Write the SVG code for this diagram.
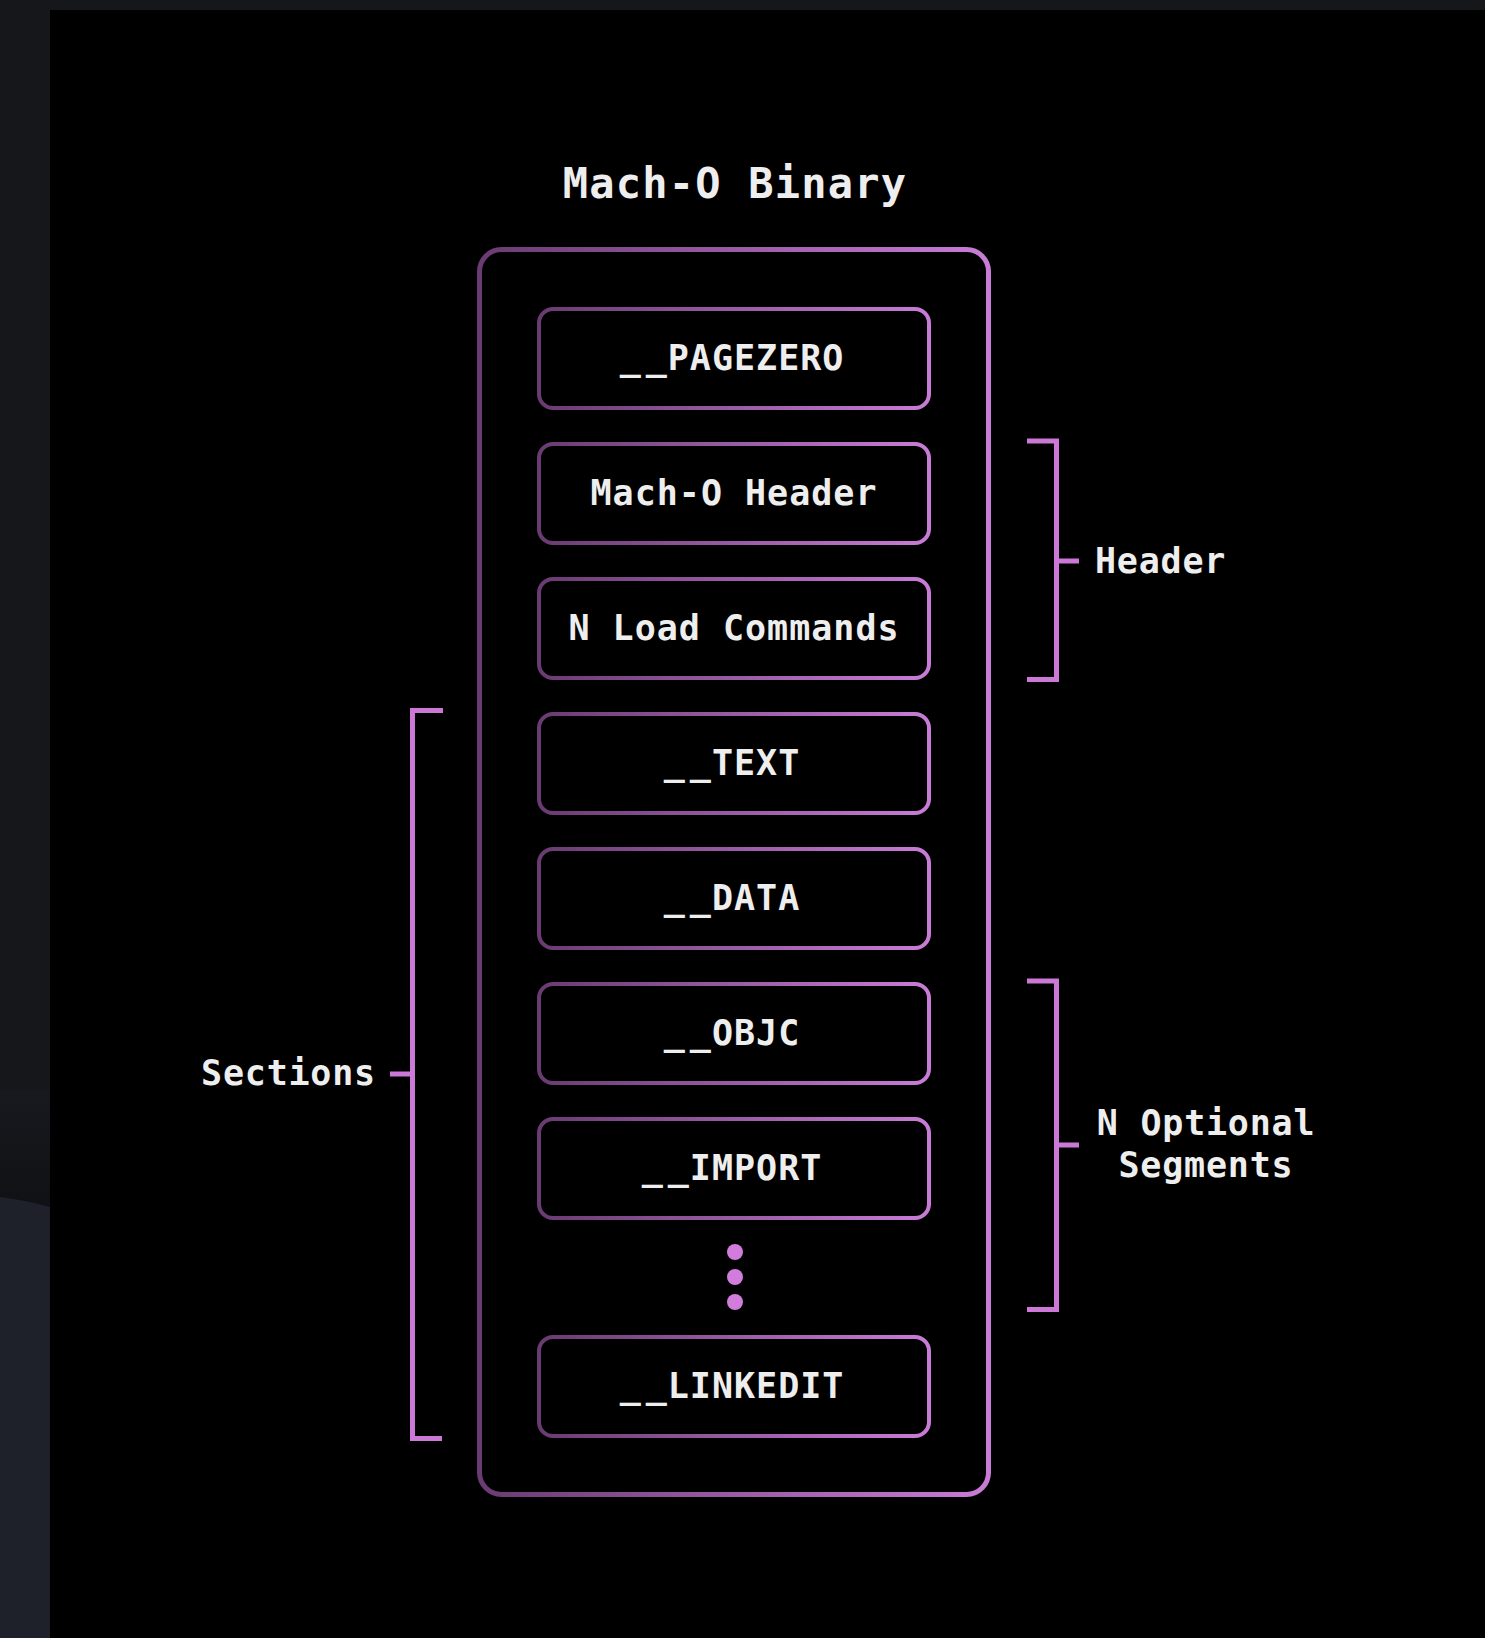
<svg xmlns="http://www.w3.org/2000/svg" width="1485" height="1638" viewBox="0 0 1485 1638">
  <defs>
    <linearGradient id="frameGrad" x1="0" y1="0" x2="1" y2="0">
      <stop offset="0" stop-color="#6a3b72"/>
      <stop offset="1" stop-color="#c97cd7"/>
    </linearGradient>
    <linearGradient id="stripShade" x1="0" y1="0" x2="0" y2="1">
      <stop offset="0" stop-color="#17191e"/>
      <stop offset="1" stop-color="#101115"/>
    </linearGradient>
    <style>
      .seg { fill: #000; stroke: url(#frameGrad); stroke-width: 4; }
      .outer { fill: #000; stroke: url(#frameGrad); stroke-width: 5; }
      .lbl { font-family: "DejaVu Sans Mono", "Liberation Mono", monospace; font-weight: bold; fill: #eeeeee; }
      .box-lbl { font-size: 35px; letter-spacing: 1px; text-anchor: middle; }
      .us { letter-spacing: 5px; }
      .side-lbl { font-size: 35px; letter-spacing: 0.8px; }
      .title { font-size: 42px; letter-spacing: 1.2px; text-anchor: middle; }
      .bracket { fill: none; stroke: #cc78d7; stroke-width: 5; stroke-linejoin: miter; stroke-linecap: butt; }
      .dot { fill: #d27ddc; }
    </style>
  </defs>

  <!-- page background -->
  <rect x="0" y="0" width="1485" height="1638" fill="#000"/>
  <rect x="0" y="0" width="1485" height="10" fill="#15171b"/>
  <rect x="0" y="0" width="50" height="1638" fill="#15171b"/>
  <rect x="0" y="1090" width="50" height="120" fill="url(#stripShade)"/>
  <path d="M0,1197 Q25,1200 50,1207 L50,1638 L0,1638 Z" fill="#1e2129"/>

  <!-- title -->
  <text class="lbl title" x="735" y="198">Mach-O Binary</text>

  <!-- binary container -->
  <g id="binary">
    <rect class="outer" x="479.5" y="249.5" width="509" height="1245" rx="22"/>
  </g>

  <!-- segments -->
  <g id="pagezero">
    <rect class="seg" x="539" y="309" width="390" height="99" rx="14"/>
    <text class="lbl box-lbl" x="732" y="370"><tspan class="us">_</tspan>_PAGEZERO</text>
  </g>
  <g id="macho-header">
    <rect class="seg" x="539" y="444" width="390" height="99" rx="14"/>
    <text class="lbl box-lbl" x="734" y="505">Mach-O Header</text>
  </g>
  <g id="load-commands">
    <rect class="seg" x="539" y="579" width="390" height="99" rx="14"/>
    <text class="lbl box-lbl" x="734" y="640">N Load Commands</text>
  </g>
  <g id="text-seg">
    <rect class="seg" x="539" y="714" width="390" height="99" rx="14"/>
    <text class="lbl box-lbl" x="732" y="775"><tspan class="us">_</tspan>_TEXT</text>
  </g>
  <g id="data-seg">
    <rect class="seg" x="539" y="849" width="390" height="99" rx="14"/>
    <text class="lbl box-lbl" x="732" y="910"><tspan class="us">_</tspan>_DATA</text>
  </g>
  <g id="objc-seg">
    <rect class="seg" x="539" y="984" width="390" height="99" rx="14"/>
    <text class="lbl box-lbl" x="732" y="1045"><tspan class="us">_</tspan>_OBJC</text>
  </g>
  <g id="import-seg">
    <rect class="seg" x="539" y="1119" width="390" height="99" rx="14"/>
    <text class="lbl box-lbl" x="732" y="1180"><tspan class="us">_</tspan>_IMPORT</text>
  </g>
  <g id="ellipsis">
    <circle class="dot" cx="735" cy="1252" r="8"/>
    <circle class="dot" cx="735" cy="1277" r="8"/>
    <circle class="dot" cx="735" cy="1302" r="8"/>
  </g>
  <g id="linkedit-seg">
    <rect class="seg" x="539" y="1337" width="390" height="99" rx="14"/>
    <text class="lbl box-lbl" x="732" y="1398"><tspan class="us">_</tspan>_LINKEDIT</text>
  </g>

  <!-- grouping brackets -->
  <g id="connectors">
    <path class="bracket" d="M1027,441 H1056.5 V679.5 H1027 M1056.5,561 H1079"/>
    <path class="bracket" d="M1027,981 H1056.5 V1309.5 H1027 M1056.5,1145 H1079"/>
    <path class="bracket" d="M443,710.5 H412.5 V1438.5 H442 M412.5,1074 H390"/>
  </g>

  <!-- bracket labels -->
  <g id="header-label">
    <text class="lbl side-lbl" x="1095" y="573">Header</text>
  </g>
  <g id="segments-label">
    <text class="lbl side-lbl" x="1206" y="1135" text-anchor="middle">N Optional</text>
    <text class="lbl side-lbl" x="1206" y="1177" text-anchor="middle">Segments</text>
  </g>
  <g id="sections-label">
    <text class="lbl side-lbl" x="376" y="1085" text-anchor="end">Sections</text>
  </g>
</svg>
